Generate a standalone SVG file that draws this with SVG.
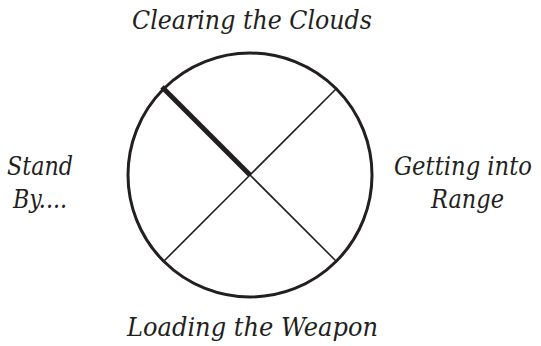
<svg xmlns="http://www.w3.org/2000/svg" width="541" height="346" viewBox="0 0 541 346">
<style>
.lbl{font-family:"DejaVu Serif","Liberation Serif",serif;font-style:italic;font-size:25.5px;fill:#231f20}
.thin{stroke:#231f20;stroke-width:1.6;fill:none}
</style>
<rect width="541" height="346" fill="#fff"/>
<g id="connectors">
<line class="thin" x1="250" y1="175" x2="337" y2="88"/>
<line class="thin" x1="250" y1="175" x2="163" y2="262"/>
<line class="thin" x1="250" y1="175" x2="337" y2="262"/>
<line x1="250" y1="175" x2="162" y2="87" stroke="#231f20" stroke-width="5"/>
</g>
<g id="wheel">
<circle cx="250" cy="175" r="122" fill="none" stroke="#231f20" stroke-width="3"/>
</g>
<g id="top"><text class="lbl" x="132" y="29" textLength="240" lengthAdjust="spacingAndGlyphs">Clearing the Clouds</text></g>
<g id="left"><text class="lbl" x="7" y="175" textLength="66" lengthAdjust="spacingAndGlyphs">Stand</text><text class="lbl" x="13" y="208" textLength="54" lengthAdjust="spacingAndGlyphs">By....</text></g>
<g id="right"><text class="lbl" x="394" y="175" textLength="138" lengthAdjust="spacingAndGlyphs">Getting into</text><text class="lbl" x="431" y="208" textLength="73" lengthAdjust="spacingAndGlyphs">Range</text></g>
<g id="bottom"><text class="lbl" x="127" y="336" textLength="251" lengthAdjust="spacingAndGlyphs">Loading the Weapon</text></g>
</svg>
